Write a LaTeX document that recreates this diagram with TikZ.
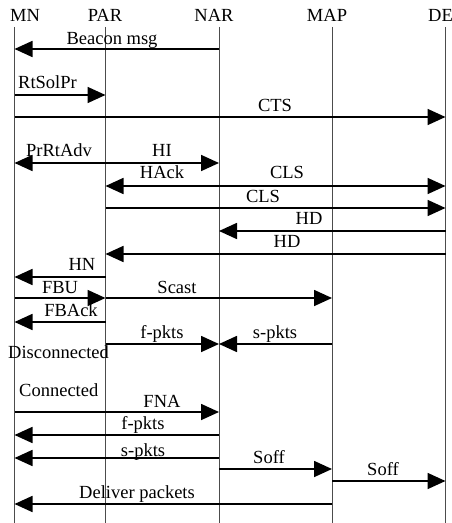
\documentclass[tikz,border=0pt]{standalone}
\usepackage{fontspec}
\setmainfont{Liberation Serif}
\usetikzlibrary{arrows.meta}
\begin{document}
\begin{tikzpicture}[x=1bp,y=-1bp,
  font=\fontsize{18.5bp}{22bp}\selectfont,
  life/.style={draw=black!70, line width=0.9bp},
  msg/.style={line width=1.7bp, -{Triangle[length=18bp,width=16bp]}},
  dmsg/.style={line width=1.7bp, {Triangle[length=18bp,width=16bp]}-{Triangle[length=18bp,width=16bp]}},
  lbl/.style={inner sep=0pt, anchor=base}]
\useasboundingbox (0,0) rectangle (452,523);
% lifelines
\coordinate (mn) at (14.5,27);
\coordinate (par) at (105.5,27);
\coordinate (nar) at (219,27);
\coordinate (map) at (332,27);
\coordinate (de) at (445.5,27);
\coordinate (mnE) at (14.5,523);
\coordinate (parE) at (105.5,523);
\coordinate (narE) at (219,523);
\coordinate (mapE) at (332,523);
\coordinate (deE) at (445.5,523);
\draw[life] (mn) -- (mnE);
\draw[life] (par) -- (parE);
\draw[life] (nar) -- (narE);
\draw[life] (map) -- (mapE);
\draw[life] (de) -- (deE);
% headers
\node[lbl, anchor=base west] (hMN) at (10,22) {MN};
\node[lbl] (hPAR) at (105,22) {PAR};
\node[lbl] (hNAR) at (214,22) {NAR};
\node[lbl] (hMAP) at (327,22) {MAP};
\node[lbl, anchor=base west] (hDE) at (428,22) {DE};
% messages
\draw[msg] (nar |- 0,49) -- (mn |- 0,49);
\node[lbl] (l1) at (112,45) {Beacon msg};
\draw[msg] (mn |- 0,95) -- (par |- 0,95);
\node[lbl, anchor=base west] (l2) at (18,89) {RtSolPr};
\draw[msg] (mn |- 0,117) -- (de |- 0,117);
\node[lbl] (l3) at (275,112) {CTS};
\draw[dmsg] (mn |- 0,163) -- (nar |- 0,163);
\node[lbl] (l4) at (59,157) {PrRtAdv};
\node[lbl] (l5) at (162,157) {HI};
\draw[dmsg] (par |- 0,186) -- (de |- 0,186);
\node[lbl] (l6) at (162,179) {HAck};
\node[lbl] (l7) at (287,179) {CLS};
\draw[msg] (par |- 0,208) -- (de |- 0,208);
\node[lbl] (l8) at (263,203) {CLS};
\draw[msg] (de |- 0,231) -- (nar |- 0,231);
\node[lbl] (l9) at (309,224) {HD};
\draw[msg] (de |- 0,254) -- (par |- 0,254);
\node[lbl] (l10) at (287,247) {HD};
\draw[msg] (par |- 0,277) -- (mn |- 0,277);
\node[lbl] (l11) at (82,270) {HN};
\draw[msg] (mn |- 0,298) -- (par |- 0,298);
\node[lbl] (l12) at (60,293) {FBU};
\draw[msg] (par |- 0,298) -- (map |- 0,298);
\node[lbl] (l13) at (177,293) {Scast};
\draw[msg] (par |- 0,322) -- (mn |- 0,322);
\node[lbl] (l14) at (71,316) {FBAck};
\draw[msg] (par |- 0,344) -- (nar |- 0,344);
\node[lbl] (l15) at (162,338) {f-pkts};
\draw[msg] (map |- 0,344) -- (nar |- 0,344);
\node[lbl] (l16) at (275,338) {s-pkts};
\node[lbl, anchor=base west] (l17) at (8,358) {Disconnected};
\node[lbl, anchor=base west] (l18) at (19,396) {Connected};
\draw[msg] (mn |- 0,412) -- (nar |- 0,412);
\node[lbl] (l19) at (162,407) {FNA};
\draw[msg] (nar |- 0,435) -- (mn |- 0,435);
\node[lbl] (l20) at (143,429) {f-pkts};
\draw[msg] (nar |- 0,458) -- (mn |- 0,458);
\node[lbl] (l21) at (143,456) {s-pkts};
\draw[msg] (nar |- 0,469) -- (map |- 0,469);
\node[lbl] (l22) at (269,463) {Soff};
\draw[msg] (map |- 0,481) -- (de |- 0,481);
\node[lbl] (l23) at (383,475) {Soff};
\draw[msg] (map |- 0,504) -- (mn |- 0,504);
\node[lbl] (l24) at (137,498) {Deliver packets};
\end{tikzpicture}
\end{document}
